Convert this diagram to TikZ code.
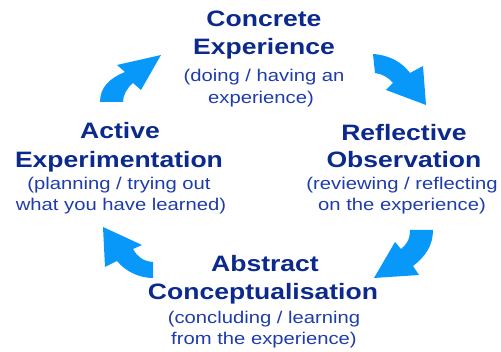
\documentclass[tikz,border=0pt]{standalone}
\usepackage{fontspec}
\newfontfamily\kfont[FakeStretch=1.19]{Liberation Sans}
\definecolor{titleblue}{RGB}{12,42,140}
\definecolor{subblue}{RGB}{30,60,170}
\definecolor{arrowblue}{RGB}{8,152,250}
\begin{document}
\begin{tikzpicture}[x=1pt,y=-1pt,
  ttl/.style={anchor=base,inner sep=0pt,text=titleblue,font=\kfont\bfseries\fontsize{22.3}{26}\selectfont},
  sub/.style={anchor=base,inner sep=0pt,text=subblue,font=\kfont\fontsize{17}{20}\selectfont},
  bigarrow/.style={fill=arrowblue,draw=none}]
\useasboundingbox (0,0) rectangle (501,352);
% top
\node[ttl] (ce1) at (264,27) {Concrete};
\node[ttl] (ce2) at (264,55) {Experience};
\node[sub] (ce3) at (264,82) {(doing / having an};
\node[sub] (ce4) at (261,104) {experience)};
% right
\node[ttl] (ro1) at (404,141) {Reflective};
\node[ttl] (ro2) at (404,168) {Observation};
\node[sub] (ro3) at (402,190) {(reviewing / reflecting};
\node[sub] (ro4) at (402,211) {on the experience)};
% bottom
\node[ttl] (ac1) at (265,272) {Abstract};
\node[ttl] (ac2) at (263,300) {Conceptualisation};
\node[sub] (ac3) at (264,324) {(concluding / learning};
\node[sub] (ac4) at (264,345) {from the experience)};
% left
\node[ttl] (ae1) at (120,139) {Active};
\node[ttl] (ae2) at (119,168) {Experimentation};
\node[sub] (ae3) at (119,190) {(planning / trying out};
\node[sub] (ae4) at (121,211) {what you have learned)};
% arrows
\fill[bigarrow] (100,102) .. controls (100,87) and (110,78) .. (125,72) -- (117,65) -- (161,55) -- (141,90) -- (133,83) .. controls (127,88) and (123,95) .. (123,102) -- cycle;
\fill[bigarrow] (373,54) .. controls (389,55) and (402,62) .. (410,73) -- (423,66) -- (426,105) -- (386,90) -- (393,83) .. controls (388,77) and (382,74) .. (375,73) -- cycle;
\fill[bigarrow] (410,230) .. controls (410,240) and (406,245) .. (401,249) -- (395,242) -- (374,278) -- (419,275) -- (413,266) .. controls (426,256) and (433,245) .. (433,230) -- cycle;
\fill[bigarrow] (153,262) .. controls (142,261) and (137,256) .. (133,249) -- (142,245) -- (103,227) -- (105,267) -- (117,261) .. controls (126,272) and (140,278) .. (153,278) -- cycle;
\end{tikzpicture}
\end{document}
